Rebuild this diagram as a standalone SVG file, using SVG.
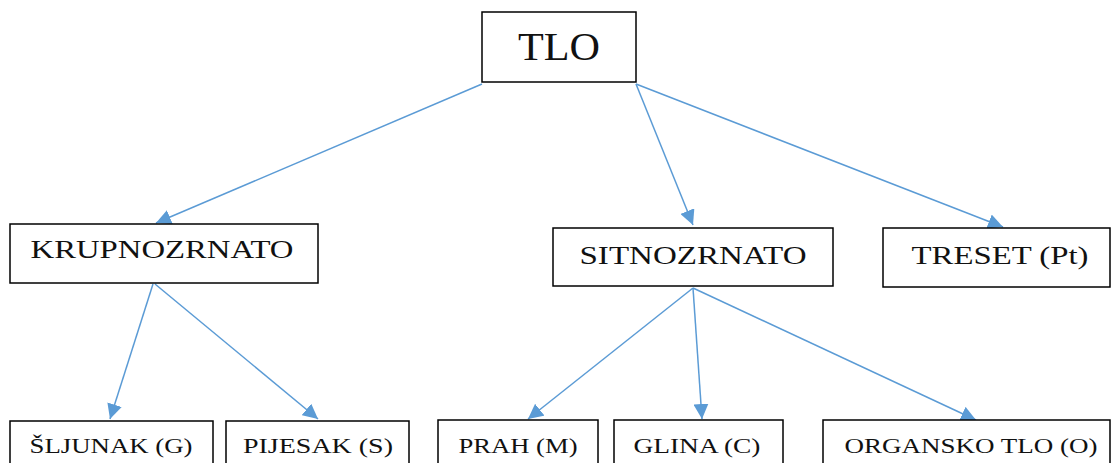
<svg xmlns="http://www.w3.org/2000/svg" width="1119" height="463" viewBox="0 0 1119 463">
<style>
.box{fill:#fff;stroke:#000;stroke-width:1.5}
.t{font-family:"Liberation Serif","DejaVu Serif","Times New Roman",serif;fill:#111;text-anchor:middle}
.big{font-size:40px}
.mid{font-size:26px}
.sm{font-size:22px}
.c{stroke:#5b9bd5;stroke-width:1.5;fill:none;marker-end:url(#ah)}
</style>
<defs>
<marker id="ah" viewBox="0 0 10 10" refX="10" refY="5" markerWidth="15" markerHeight="15" markerUnits="userSpaceOnUse" orient="auto">
<path d="M0,0 L10,5 L0,10 z" fill="#5b9bd5"/>
</marker>
</defs>
<rect width="1119" height="463" fill="#fff"/>
<g id="connectors">
<line class="c" x1="482" y1="84" x2="156" y2="223"/>
<line class="c" x1="636" y1="84" x2="693" y2="225"/>
<line class="c" x1="636" y1="84" x2="1003" y2="227"/>
<line class="c" x1="153" y1="284" x2="110" y2="419"/>
<line class="c" x1="155" y1="284" x2="318" y2="419"/>
<line class="c" x1="693" y1="288" x2="528" y2="419"/>
<line class="c" x1="693" y1="288" x2="702" y2="419"/>
<line class="c" x1="693" y1="288" x2="976" y2="420"/>
</g>
<g id="tlo"><rect class="box" x="482" y="12" width="154" height="70"/><text class="t big" x="559" y="60" textLength="82" lengthAdjust="spacingAndGlyphs">TLO</text></g>
<g id="krupnozrnato"><rect class="box" x="10" y="224" width="308" height="59"/><text class="t mid" x="162" y="258" textLength="263" lengthAdjust="spacingAndGlyphs">KRUPNOZRNATO</text></g>
<g id="sitnozrnato"><rect class="box" x="553" y="228" width="280" height="58"/><text class="t mid" x="693" y="264" textLength="227" lengthAdjust="spacingAndGlyphs">SITNOZRNATO</text></g>
<g id="treset"><rect class="box" x="883" y="228" width="227" height="59"/><text class="t mid" x="1000" y="264" textLength="177" lengthAdjust="spacingAndGlyphs">TRESET (Pt)</text></g>
<g id="sljunak"><rect class="box" x="10" y="421" width="203" height="50"/><text class="t sm" x="111" y="453" textLength="163" lengthAdjust="spacingAndGlyphs">ŠLJUNAK (G)</text></g>
<g id="pijesak"><rect class="box" x="226" y="421" width="183" height="50"/><text class="t sm" x="318" y="453" textLength="150" lengthAdjust="spacingAndGlyphs">PIJESAK (S)</text></g>
<g id="prah"><rect class="box" x="438" y="420" width="160" height="50"/><text class="t sm" x="518" y="453" textLength="119" lengthAdjust="spacingAndGlyphs">PRAH (M)</text></g>
<g id="glina"><rect class="box" x="614" y="420" width="169" height="50"/><text class="t sm" x="697" y="453" textLength="127" lengthAdjust="spacingAndGlyphs">GLINA (C)</text></g>
<g id="organsko"><rect class="box" x="823" y="420" width="287" height="50"/><text class="t sm" x="971" y="453" textLength="253" lengthAdjust="spacingAndGlyphs">ORGANSKO TLO (O)</text></g>
</svg>
